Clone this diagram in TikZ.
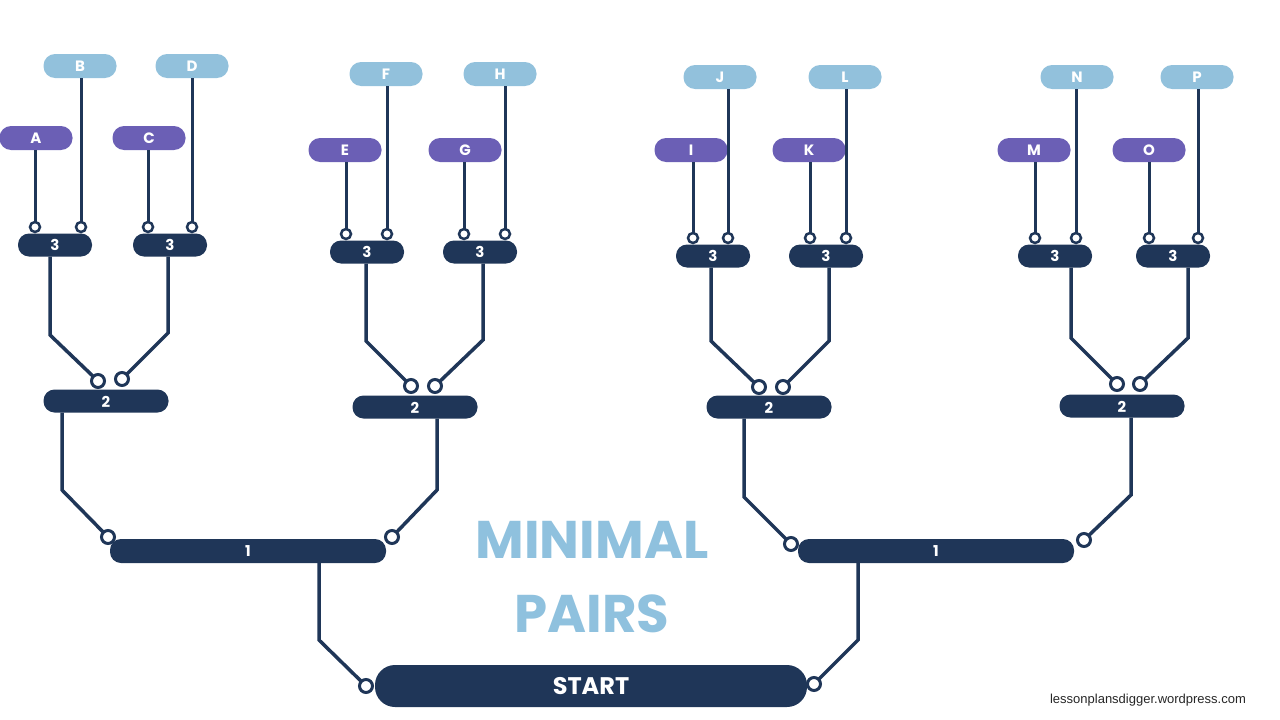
\documentclass[tikz,border=0pt]{standalone}
\usepackage{fontspec}
\setmainfont{Poppins}
\setsansfont{Liberation Sans}
\begin{document}
\definecolor{navy}{HTML}{1F3658}
\definecolor{purp}{HTML}{6B5FB5}
\definecolor{lblue}{HTML}{92C1DC}
\definecolor{tblue}{HTML}{8FC1DE}
\begin{tikzpicture}[x=1pt,y=-1pt,
 bar/.style={fill=navy,rounded corners=11pt,text=white,inner sep=0,minimum height=23pt,font=\bfseries\fontsize{15}{15}\selectfont},
 lab/.style={rounded corners=11.5pt,inner sep=0,minimum width=73pt,minimum height=24pt,text=white,font=\bfseries\fontsize{15}{15}\selectfont},
 pl/.style={lab,fill=purp}, bl/.style={lab,fill=lblue},
 ring/.style={circle,draw=navy,fill=white,line width=3pt,minimum size=13pt,inner sep=0},
 sring/.style={circle,draw=navy,fill=white,line width=2.5pt,minimum size=10pt,inner sep=0},
 wire/.style={navy,line width=3.5pt},
 two/.style={text=white,font=\bfseries\fontsize{15}{15}\selectfont},
 title/.style={text=tblue,font=\bfseries\fontsize{53}{53}\selectfont}]
\useasboundingbox (0,0) rectangle (1280,720);
% labels
\node[pl] (A) at (36,138) {A}; \node[bl] (B) at (80,66) {B};
\node[pl] (C) at (149,138) {C}; \node[bl] (D) at (192,66) {D};
\node[pl] (E) at (345,150) {E}; \node[bl] (F) at (386,74) {F};
\node[pl] (G) at (465,150) {G}; \node[bl] (H) at (500,74) {H};
\node[pl] (I) at (691,150) {I}; \node[bl] (J) at (720,77) {J};
\node[pl] (K) at (809,150) {K}; \node[bl] (L) at (845,77) {L};
\node[pl] (M) at (1034,150) {M}; \node[bl] (N) at (1077,77) {N};
\node[pl] (O) at (1149,150) {O}; \node[bl] (P) at (1197,77) {P};
% level 3 bars
\node[bar,minimum width=74pt] (t1) at (55,245) {3};
\node[bar,minimum width=74pt] (t2) at (170,245) {3};
\node[bar,minimum width=74pt] (t3) at (367,252) {3};
\node[bar,minimum width=74pt] (t4) at (480,252) {3};
\node[bar,minimum width=74pt] (t5) at (713,256) {3};
\node[bar,minimum width=74pt] (t6) at (826,256) {3};
\node[bar,minimum width=74pt] (t7) at (1055,256) {3};
\node[bar,minimum width=74pt] (t8) at (1173,256) {3};
% level 2 bars
\node[bar,minimum width=125pt] (s1) at (106,401) {};
\node[bar,minimum width=125pt] (s2) at (415,407) {};
\node[bar,minimum width=125pt] (s3) at (769,407) {};
\node[bar,minimum width=125pt] (s4) at (1122,406) {};
% level 1 bars
\node[bar,minimum width=276pt,minimum height=24pt] (o1) at (248,551) {1};
\node[bar,minimum width=276pt,minimum height=24pt] (o2) at (936,551) {1};
% start
\node[bar,minimum width=432pt,minimum height=42pt,rounded corners=20pt,font=\bfseries\fontsize{24}{24}\selectfont] (st) at (591,686) {START};
% ring coordinates
\foreach \n/\x/\y in {a/35/227,b/81/227,c/148/227,d/192/227,e/346/234,f/387/234,g/464/234,h/505/234,
 i/693/238,j/728/238,k/810/238,l/846/238,m/1035/238,n/1076/238,o/1149/238,p/1198/238}
  \coordinate (c\n) at (\x,\y);
\foreach \n/\x/\y in {s1a/98/381,s1b/122/379,s2a/411/386,s2b/435/386,s3a/759/387,s3b/783/387,s4a/1117/384,s4b/1140/384,
 o1a/108/537,o1b/392/537,o2a/791/544,o2b/1084/540,sta/366/686,stb/814/684}
  \coordinate (c\n) at (\x,\y);
% wires labels -> level3
\foreach \L/\n in {A/a,B/b,C/c,D/d,E/e,F/f,G/g,H/h,I/i,J/j,K/k,L/l,M/m,N/n,O/o,P/p}
  \draw[wire,line width=3pt] (\L.south -| c\n) -- (c\n);
% level3 -> level2
\draw[wire] (t1.south -| 50,0) -- (50,335) -- (cs1a);
\draw[wire] (t2.south -| 168,0) -- (168,333) -- (cs1b);
\draw[wire] (t3.south -| 366,0) -- (366,341) -- (cs2a);
\draw[wire] (t4.south -| 483,0) -- (483,340) -- (cs2b);
\draw[wire] (t5.south -| 711,0) -- (711,341) -- (cs3a);
\draw[wire] (t6.south -| 829,0) -- (829,341) -- (cs3b);
\draw[wire] (t7.south -| 1071,0) -- (1071,338) -- (cs4a);
\draw[wire] (t8.south -| 1188,0) -- (1188,338) -- (cs4b);
% level2 -> level1
\draw[wire] (s1.south -| 62,0) -- (62,490) -- (co1a);
\draw[wire] (s2.south -| 437,0) -- (437,490) -- (co1b);
\draw[wire] (s3.south -| 744,0) -- (744,497) -- (co2a);
\draw[wire] (s4.south -| 1131,0) -- (1131,495) -- (co2b);
% level1 -> start
\draw[wire] (o1.south -| 319,0) -- (319,640) -- (csta);
\draw[wire] (o2.south -| 858,0) -- (858,640) -- (cstb);
% rings
\foreach \n in {a,b,c,d,e,f,g,h,i,j,k,l,m,n,o,p}
  \node[sring] (r\n) at (c\n) {};
\foreach \n in {s1a,s1b,s2a,s2b,s3a,s3b,s4a,s4b,o1a,o1b,o2a,o2b,sta,stb}
  \node[ring] (r\n) at (c\n) {};
% level2 labels on top of rings
\node[two] (l1) at (106,402) {2};
\node[two] (l2) at (415,408) {2};
\node[two] (l3) at (769,408) {2};
\node[two] (l4) at (1122,407) {2};
% title
\node[title] (t) at (592,540) {MINIMAL};
\node[title] (p) at (592,614) {PAIRS};
\node[font=\sffamily\fontsize{13}{13}\selectfont,text=black!85] (w) at (1148,700) {lessonplansdigger.wordpress.com};
\end{tikzpicture}
\end{document}
